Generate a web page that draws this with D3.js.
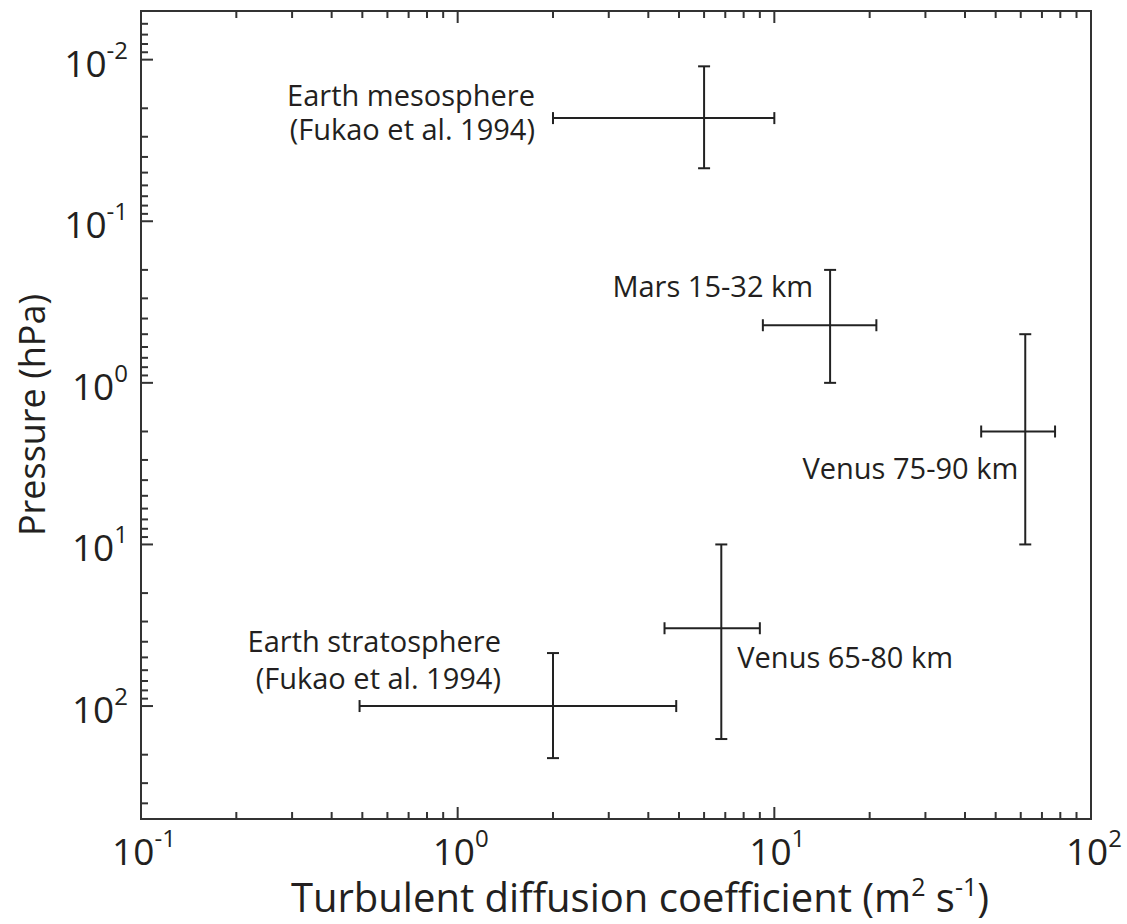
<!DOCTYPE html>
<html>
<head>
<meta charset="utf-8">
<script src="https://cdn.jsdelivr.net/npm/d3@7"></script>
<style>
  html, body { margin: 0; padding: 0; background: #fff; }
  svg { display: block; }
  text { font-family: "Open Sans", "Noto Sans", sans-serif; fill: #231f20; }
</style>
</head>
<body>
<svg id="chart" width="1127" height="924"></svg>
<script>
// ---- Data ----
const names   = ["Earth mesosphere", "Mars 15-32 km", "Venus 75-90 km", "Venus 65-80 km", "Earth stratosphere"];
const notes   = ["(Fukao et al. 1994)", "", "", "", "(Fukao et al. 1994)"];
const kCenter = [6, 15, 62, 6.8, 2];          // turbulent diffusion coefficient (m2 s-1)
const kLow    = [2, 9.2, 45, 4.5, 0.49];
const kHigh   = [10, 21, 77, 9.0, 4.9];
const pCenter = [0.023, 0.44, 2.0, 33, 100];  // pressure (hPa)
const pLow    = [0.011, 0.2, 0.5, 10, 47];
const pHigh   = [0.047, 1.0, 10, 160, 210];
const xTickExps = [-1, 0, 1, 2];
const yTickExps = [-2, -1, 0, 1, 2];
const xTitle = "Turbulent diffusion coefficient (m";
const yTitle = "Pressure (hPa)";

// ---- Layout ----
const plot = { left: 141, right: 1091, top: 11, bottom: 819 };
// label placement relative to the bar: ref "lo" = left end of the horizontal bar, "c" = centre
const labelLayout = [
  { ref: "lo", anchor: "end",   dx: -18, dy1: -12, dy2: 22 },
  { ref: "c",  anchor: "end",   dx: -17, dy1: -28, dy2: 0 },
  { ref: "c",  anchor: "end",   dx: -7,  dy1: 48,  dy2: 0 },
  { ref: "c",  anchor: "start", dx: 16,  dy1: 40,  dy2: 0 },
  { ref: "c",  anchor: "end",   dx: -52, dy1: -54, dy2: -17 }
];

const svg = d3.select("#chart");

const x = d3.scaleLog().domain([0.1, 100]).range([plot.left, plot.right]);
const y = d3.scaleLog().domain([0.005, 500]).range([plot.top, plot.bottom]);

const isMajor = v => Math.abs(Math.log10(v) - Math.round(Math.log10(v))) < 1e-9;

// frame
svg.append("rect")
  .attr("x", plot.left).attr("y", plot.top)
  .attr("width", plot.right - plot.left).attr("height", plot.bottom - plot.top)
  .attr("fill", "none").attr("stroke", "#333").attr("stroke-width", 2);

// y ticks (left, inward)
const yt = y.ticks();
svg.append("g").selectAll("line").data(yt).join("line")
  .attr("x1", plot.left).attr("x2", d => plot.left + (isMajor(d) ? 12 : 7))
  .attr("y1", d => y(d)).attr("y2", d => y(d))
  .attr("stroke", "#333").attr("stroke-width", 2);

// x ticks (bottom and top, inward)
const xt = x.ticks().filter(d => d > 0.1 && d < 100);
const xg = svg.append("g");
xg.selectAll("line.b").data(xt).join("line").attr("class", "b")
  .attr("x1", d => x(d)).attr("x2", d => x(d))
  .attr("y1", plot.bottom).attr("y2", d => plot.bottom - (isMajor(d) ? 12 : 7))
  .attr("stroke", "#333").attr("stroke-width", 2);
xg.selectAll("line.t").data(xt).join("line").attr("class", "t")
  .attr("x1", d => x(d)).attr("x2", d => x(d))
  .attr("y1", plot.top).attr("y2", d => plot.top + (isMajor(d) ? 12 : 7))
  .attr("stroke", "#333").attr("stroke-width", 2);

// tick labels
function powLabel(sel, e) {
  sel.append("tspan").text("10");
  sel.append("tspan").attr("dy", -18).style("font-size", "24px").text(String(e));
}
svg.append("g").selectAll("text").data(yTickExps).join("text")
  .attr("x", 128).attr("y", d => y(Math.pow(10, d)) + 17)
  .attr("text-anchor", "end").style("font-size", "37px")
  .each(function(d) { powLabel(d3.select(this), d); });

svg.append("g").selectAll("text").data(xTickExps).join("text")
  .attr("x", d => x(Math.pow(10, d)) + 3).attr("y", 865)
  .attr("text-anchor", "middle").style("font-size", "37px")
  .each(function(d) { powLabel(d3.select(this), d); });

// axis titles
const xt2 = svg.append("text").attr("x", 640).attr("y", 912)
  .attr("text-anchor", "middle").style("font-size", "40px");
xt2.append("tspan").text(xTitle);
xt2.append("tspan").attr("dy", -16).style("font-size", "25px").text("2");
xt2.append("tspan").attr("dy", 16).text(" s");
xt2.append("tspan").attr("dy", -16).style("font-size", "25px").text("-1");
xt2.append("tspan").attr("dy", 16).text(")");

svg.append("text")
  .attr("transform", `translate(45, ${(plot.top + plot.bottom) / 2}) rotate(-90)`)
  .attr("text-anchor", "middle").style("font-size", "36px")
  .text(yTitle);

// error bars
const cap = 6;
const g = svg.append("g").attr("stroke", "#222").attr("stroke-width", 2).attr("fill", "none");
names.forEach((n, i) => {
  const cx = x(kCenter[i]), cy = y(pCenter[i]);
  const x0 = x(kLow[i]), x1 = x(kHigh[i]);
  const y0 = y(pLow[i]), y1 = y(pHigh[i]);
  g.append("line").attr("x1", x0).attr("x2", x1).attr("y1", cy).attr("y2", cy);
  g.append("line").attr("x1", x0).attr("x2", x0).attr("y1", cy - cap).attr("y2", cy + cap);
  g.append("line").attr("x1", x1).attr("x2", x1).attr("y1", cy - cap).attr("y2", cy + cap);
  g.append("line").attr("x1", cx).attr("x2", cx).attr("y1", y0).attr("y2", y1);
  g.append("line").attr("x1", cx - cap).attr("x2", cx + cap).attr("y1", y0).attr("y2", y0);
  g.append("line").attr("x1", cx - cap).attr("x2", cx + cap).attr("y1", y1).attr("y2", y1);

  const L = labelLayout[i];
  const ax = (L.ref === "lo" ? x0 : cx) + L.dx;
  const t = svg.append("text").attr("text-anchor", L.anchor).style("font-size", "29px");
  t.append("tspan").attr("x", ax).attr("y", cy + L.dy1).text(n);
  if (notes[i]) t.append("tspan").attr("x", ax).attr("y", cy + L.dy2).text(notes[i]);
});
</script>
</body>
</html>
